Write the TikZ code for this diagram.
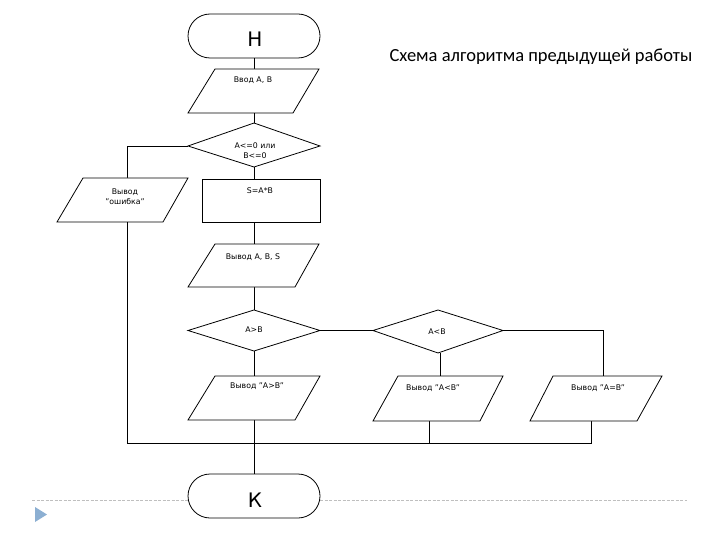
\documentclass[tikz,border=0pt]{standalone}
\usepackage{fontspec}
\setmainfont{DejaVu Sans}[Ligatures=NoCommon]
\newfontfamily\titlefont{Carlito}
\newcommand\qq{\char"0022\relax}
\begin{document}
\begin{tikzpicture}[x=1pt,y=-1pt,
  shp/.style={draw=black,line width=0.8pt,fill=white,line join=miter},
  conn/.style={draw=black,line width=0.8pt},
  lbl/.style={inner sep=0pt,font=\fontsize{7.8}{10}\selectfont,align=center},
  big/.style={inner sep=0pt,font=\fontsize{20}{22}\selectfont},
  ttl/.style={inner sep=0pt,font=\titlefont\fontsize{18.5}{20}\selectfont}]
\useasboundingbox (0,0) rectangle (720,540);
% background decoration
\draw[draw=black!25,line width=0.6pt,dash pattern=on 3pt off 1.5pt] (32,500) -- (687,500);
\fill[fill={rgb,255:red,140;green,175;blue,210}] (35,507) -- (47,514.5) -- (35,522) -- cycle;
% title
\node[ttl] (title) at (541,57) {Схема алгоритма предыдущей работы};
% coordinates
\coordinate (startb) at (254,58);
\coordinate (int) at (254,69);
\coordinate (inb) at (254,113);
\coordinate (d1t) at (254,123);
\coordinate (d1l) at (188,146);
\coordinate (d1b) at (254,167);
\coordinate (e1c) at (127,146);
\coordinate (errt) at (127,178);
\coordinate (errb) at (127,222);
\coordinate (rt) at (254,179);
\coordinate (rb) at (254,222);
\coordinate (o1t) at (254,244);
\coordinate (o1b) at (254,287);
\coordinate (d2t) at (254,310);
\coordinate (d2r) at (320,330.5);
\coordinate (d2b) at (254,351);
\coordinate (d3l) at (373,330.5);
\coordinate (d3r) at (503,330.5);
\coordinate (d3b) at (440,353);
\coordinate (d3c) at (603,330.5);
\coordinate (o2t) at (254,376);
\coordinate (o2b) at (254,420);
\coordinate (o3t) at (440,376);
\coordinate (o3b) at (429,421);
\coordinate (o4t) at (603,376);
\coordinate (o4b) at (591,421);
\coordinate (jl) at (127,443);
\coordinate (j3) at (429,443);
\coordinate (j4) at (591,443);
\coordinate (endt) at (254,474);
% connectors
\draw[conn] (startb) -- (int);
\draw[conn] (inb) -- (d1t);
\draw[conn] (d1l) -- (e1c) -- (errt);
\draw[conn] (errb) -- (jl) -- (j4) -- (o4b);
\draw[conn] (j3) -- (o3b);
\draw[conn] (d1b) -- (rt);
\draw[conn] (rb) -- (o1t);
\draw[conn] (o1b) -- (d2t);
\draw[conn] (d2r) -- (d3l);
\draw[conn] (d3r) -- (d3c) -- (o4t);
\draw[conn] (d3b) -- (o3t);
\draw[conn] (d2b) -- (o2t);
\draw[conn] (o2b) -- (endt);
% shapes
\draw[shp,rounded corners=22pt] (188,14) rectangle (320,58);
\node[big] (start) at (255,39) {Н};
\draw[shp] (215,69) -- (319,69) -- (293,113) -- (188,113) -- cycle;
\node[lbl] (input) at (253,80) {Ввод А, В};
\draw[shp] (254,123) -- (320,146) -- (254,167) -- (188,146) -- cycle;
\node[lbl] (cond1) at (255,151) {А<=0 или\\В<=0};
\draw[shp] (83,178) -- (188,178) -- (163,222) -- (57,222) -- cycle;
\node[lbl] (err) at (125,196.5) {Вывод\\\qq ошибка\qq};
\draw[shp] (202,179) rectangle (320,222);
\node[lbl] (calc) at (260,191) {S=A*B};
\draw[shp] (215,244) -- (319,244) -- (295,287) -- (188,287) -- cycle;
\node[lbl] (out1) at (253,257) {Вывод A, B, S};
\draw[shp] (254,310) -- (320,330.5) -- (254,351) -- (188,330.5) -- cycle;
\node[lbl] (cond2) at (254,330) {A>B};
\draw[shp] (438,310) -- (503,330.5) -- (438,353) -- (373,330.5) -- cycle;
\node[lbl] (cond3) at (437,332) {A<B};
\draw[shp] (215,376) -- (320,376) -- (295,420) -- (188,420) -- cycle;
\node[lbl] (out2) at (257,386) {Вывод \qq A>B\qq};
\draw[shp] (398,376) -- (503,376) -- (480,421) -- (373,421) -- cycle;
\node[lbl] (out3) at (433,388) {Вывод \qq A<B\qq};
\draw[shp] (553,376) -- (662,376) -- (637,421) -- (530,421) -- cycle;
\node[lbl] (out4) at (598,388) {Вывод \qq A=B\qq};
\draw[shp,rounded corners=22pt] (188,474) rectangle (320,518);
\node[big] (end) at (255,500) {К};
\end{tikzpicture}
\end{document}
